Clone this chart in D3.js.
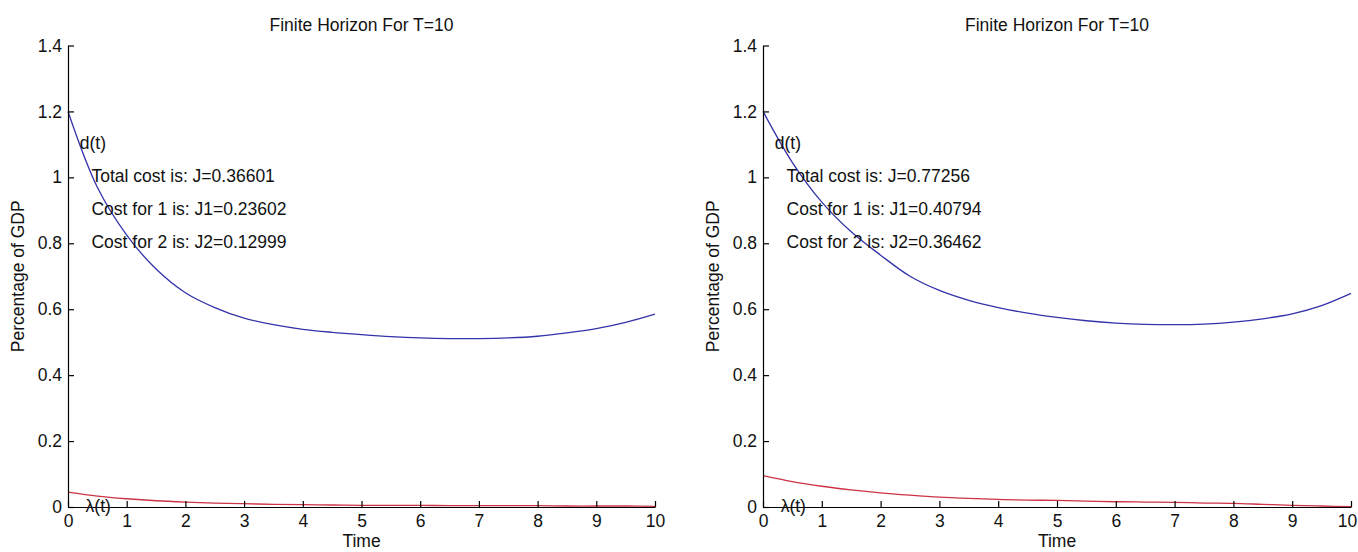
<!DOCTYPE html>
<html>
<head>
<meta charset="utf-8">
<script src="https://cdn.jsdelivr.net/npm/d3@7"></script>
<style>
    body { margin: 0; background: #fff; }
    .finiteChart text { font-family: "Liberation Sans", Arial, sans-serif; fill: #111; }
    .finiteChart__axis path, .finiteChart__axis line { stroke: #000; stroke-width: 1.2; }
    .finiteChart__axis text { font-size: 17.5px; }
    .finiteChart__title, .finiteChart__axisLabel, .finiteChart__note { font-size: 17.5px; }
    .finiteChart__line { fill: none; stroke-width: 1.3; }
    .finiteChart__line--d { stroke: #3333aa; }
    .finiteChart__line--lambda { stroke: #cc3344; }
</style>
</head>
<body>
<div class="finiteChart"></div>
<script>
const WIDTH = 1358;
const HEIGHT = 552;

// ----- DATA -------------------------------------------------------------
const time = [0, 0.5, 1, 1.5, 2, 2.5, 3, 3.5, 4, 4.5, 5, 5.5, 6, 6.5, 7, 7.5, 8, 8.5, 9, 9.5, 10];

// left panel
const dLeft = [1.2, 0.97, 0.825, 0.722, 0.65, 0.605, 0.573, 0.553, 0.539, 0.53, 0.523,
               0.517, 0.513, 0.511, 0.511, 0.513, 0.518, 0.528, 0.541, 0.56, 0.585];
const lambdaLeft = [0.045, 0.033, 0.025, 0.019, 0.015, 0.012, 0.01, 0.008, 0.007, 0.006, 0.005,
                    0.005, 0.005, 0.004, 0.004, 0.004, 0.004, 0.003, 0.003, 0.003, 0.002];
const notesLeft = ["Total cost is: J=0.36601", "Cost for 1 is: J1=0.23602", "Cost for 2 is: J2=0.12999"];

// right panel
const dRight = [1.2, 1.045, 0.925, 0.835, 0.764, 0.70, 0.657, 0.627, 0.605, 0.588, 0.575,
                0.565, 0.558, 0.554, 0.553, 0.555, 0.561, 0.571, 0.586, 0.611, 0.648];
const lambdaRight = [0.095, 0.077, 0.063, 0.052, 0.043, 0.036, 0.03, 0.026, 0.023, 0.021, 0.02,
                     0.018, 0.016, 0.015, 0.014, 0.012, 0.011, 0.008, 0.005, 0.003, 0.001];
const notesRight = ["Total cost is: J=0.77256", "Cost for 1 is: J1=0.40794", "Cost for 2 is: J2=0.36462"];

const xTicks = [0, 1, 2, 3, 4, 5, 6, 7, 8, 9, 10];
const yTicks = [0, 0.2, 0.4, 0.6, 0.8, 1, 1.2, 1.4];
const noteY = [1.0, 0.9, 0.8];

const titleText = "Finite Horizon For T=10";
const xLabel = "Time";
const yLabel = "Percentage of GDP";

// ----- PRIVATE FUNCTIONS ----------------------------------------------
function _drawPanel( svg, left, right, dValues, lambdaValues, notes )
{
    const top = 45.5;
    const bottom = 507;

    let x = d3.scaleLinear()
        .domain([0, 10])
        .range([left, right]);

    let y = d3.scaleLinear()
        .domain([0, 1.4])
        .range([bottom, top]);

    let panel = svg.append("g")
                    .classed("finiteChart__panel", true);

    // curves first so the axes sit on top
    let line = d3.line()
        .x((d, i) => x(time[i]))
        .y(d => y(d))
        .curve(d3.curveCatmullRom);

    panel.append("path")
        .datum(dValues)
        .attr("class", "finiteChart__line finiteChart__line--d")
        .attr("d", line);

    panel.append("path")
        .datum(lambdaValues)
        .attr("class", "finiteChart__line finiteChart__line--lambda")
        .attr("d", line);

    // axes, MATLAB style ticks pointing inwards
    let xAxisGroup = panel.append("g")
        .attr("class", "finiteChart__axis finiteChart__axis--x")
        .attr("transform", "translate(0," + bottom + ")")
        .call(d3.axisBottom(x)
            .tickValues(xTicks)
            .tickFormat(d3.format("d"))
            .tickSizeInner(-6)
            .tickSizeOuter(0)
            .tickPadding(8));

    // keep the last tick label inside the window
    xAxisGroup.selectAll(".tick text")
        .each(function()
        {
            let box = this.getBBox();
            let tickX = x(+d3.select(this.parentNode).datum());
            let overflow = tickX + box.x + box.width - (WIDTH - 1);
            if( overflow > 0 )
            {
                d3.select(this).attr("dx", -overflow);
            }
        });

    panel.append("g")
        .attr("class", "finiteChart__axis finiteChart__axis--y")
        .attr("transform", "translate(" + left + ",0)")
        .call(d3.axisLeft(y)
            .tickValues(yTicks)
            .tickFormat(d => d3.format("~g")(d))
            .tickSizeInner(-6)
            .tickSizeOuter(0)
            .tickPadding(6));

    panel.selectAll(".finiteChart__axis text")
        .attr("fill", "#111");

    // title & axis labels
    panel.append("text")
        .classed("finiteChart__title", true)
        .attr("x", (left + right) / 2)
        .attr("y", 31)
        .attr("text-anchor", "middle")
        .text(titleText);

    panel.append("text")
        .classed("finiteChart__axisLabel", true)
        .attr("x", (left + right) / 2)
        .attr("y", 547)
        .attr("text-anchor", "middle")
        .text(xLabel);

    panel.append("text")
        .classed("finiteChart__axisLabel", true)
        .attr("transform", "translate(" + (left - 44) + "," + ((top + bottom) / 2) + ") rotate(-90)")
        .attr("text-anchor", "middle")
        .text(yLabel);

    // annotations placed at data coordinates
    panel.append("text")
        .classed("finiteChart__note", true)
        .attr("x", x(0.2))
        .attr("y", y(1.1))
        .attr("dominant-baseline", "middle")
        .text("d(t)");

    panel.append("text")
        .classed("finiteChart__note", true)
        .attr("x", x(0.3))
        .attr("y", y(0))
        .attr("dominant-baseline", "middle")
        .text("λ(t)");

    panel.selectAll(".finiteChart__costNote")
        .data(notes)
        .enter()
            .append("text")
            .attr("class", "finiteChart__note finiteChart__costNote")
            .attr("x", x(0.4))
            .attr("y", (d, i) => y(noteY[i]))
            .attr("dominant-baseline", "middle")
            .text(d => d);
}

let svg = d3.select(".finiteChart").append("svg")
            .attr("width", WIDTH)
            .attr("height", HEIGHT);

svg.append("rect")
    .attr("width", WIDTH)
    .attr("height", HEIGHT)
    .attr("fill", "#fff");

_drawPanel( svg, 68, 655, dLeft, lambdaLeft, notesLeft );
_drawPanel( svg, 763, 1351, dRight, lambdaRight, notesRight );
</script>
</body>
</html>
